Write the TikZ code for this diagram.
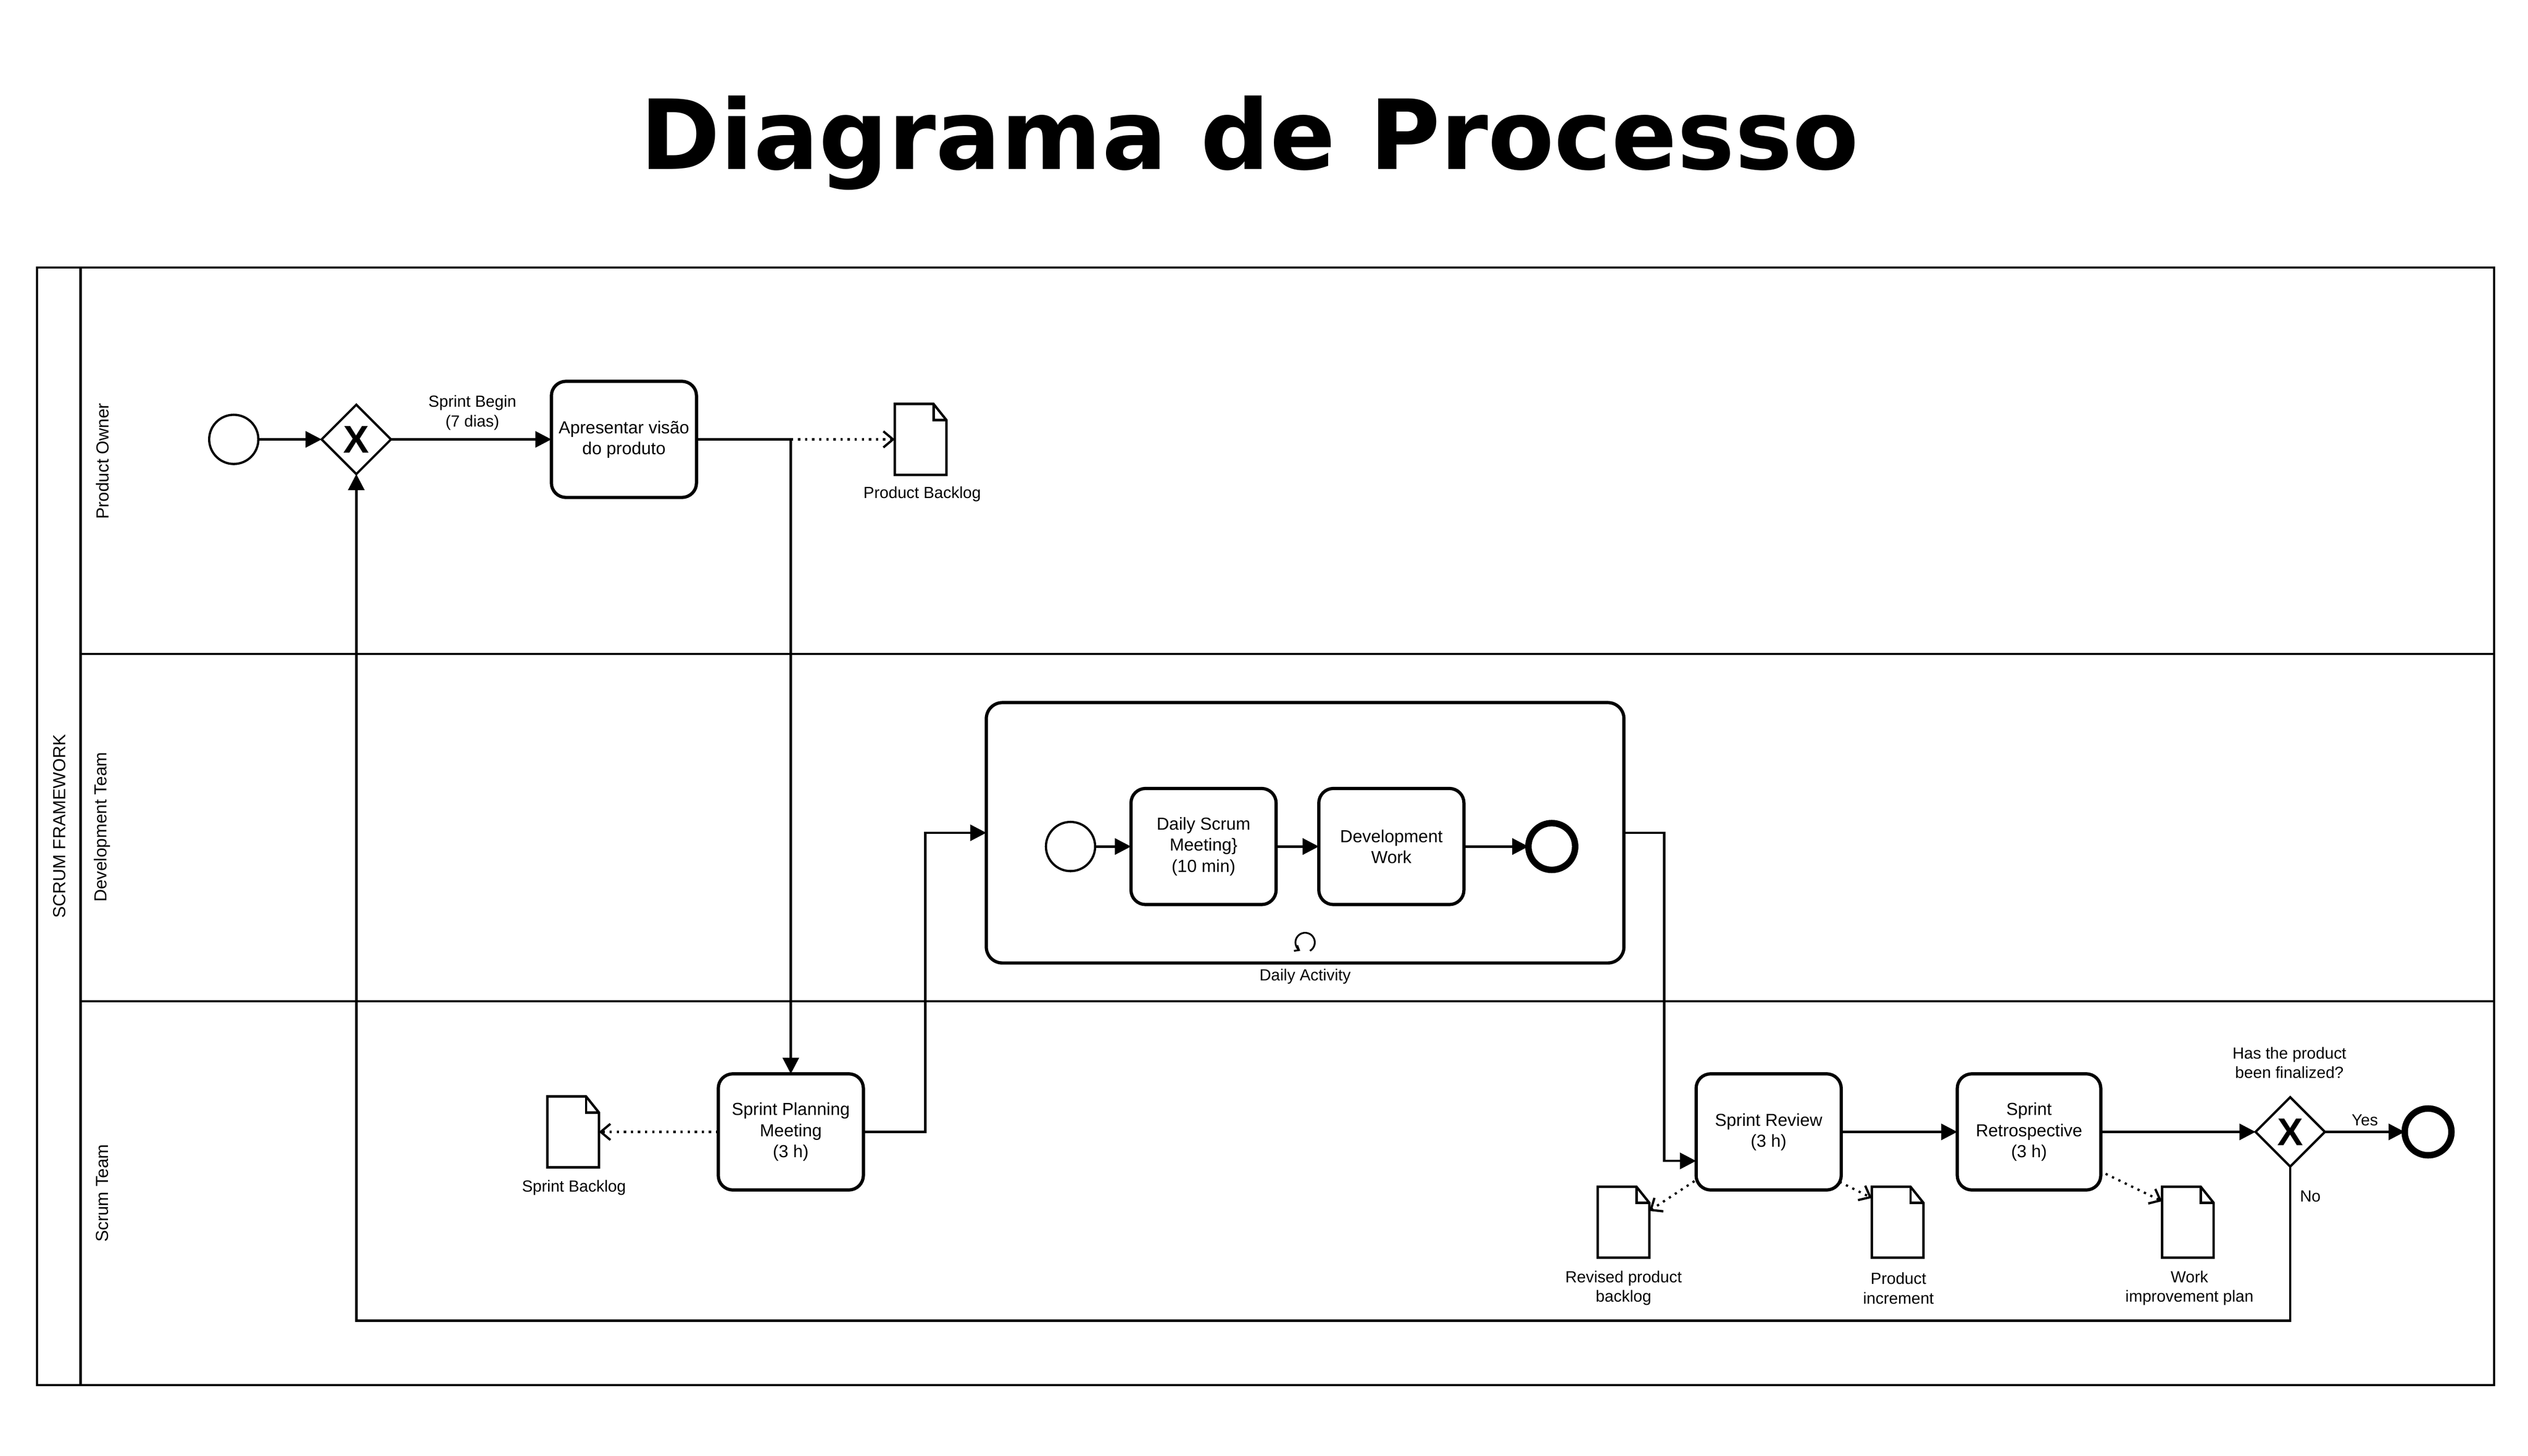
\documentclass[tikz,border=0pt]{standalone}
\usepackage{fontspec}
\setmainfont{Liberation Sans}
\newfontfamily\titlefont{DejaVu Sans}
\usetikzlibrary{arrows.meta,shapes.geometric}

\tikzset{
  poolbox/.style={draw, line width=1.4pt, rectangle, inner sep=0pt, outer sep=0pt},
  lanebox/.style={draw, line width=1.4pt, rectangle, inner sep=0pt, outer sep=0pt, anchor=north west},
  lanelabel/.style={rotate=90, inner sep=0pt, font=\fontsize{10.8}{13}\selectfont},
  task/.style={draw, line width=2pt, rounded corners=9pt, rectangle, minimum width=90pt, minimum height=72pt, align=center, inner sep=2pt, outer sep=0pt, font=\fontsize{10.8}{13}\selectfont},
  subproc/.style={draw, line width=2pt, rounded corners=10pt, rectangle, inner sep=0pt, outer sep=0pt},
  startev/.style={circle, draw, line width=1.4pt, minimum size=30.5pt, inner sep=0pt, outer sep=0pt},
  endev/.style={circle, draw, line width=4pt, minimum size=29pt, inner sep=0pt, outer sep=0pt},
  gateway/.style={diamond, draw, line width=1.4pt, minimum width=43pt, minimum height=43pt, inner sep=0pt, outer sep=0pt, font=\fontsize{24}{24}\selectfont\bfseries},
  dataobj/.style={rectangle, minimum width=32pt, minimum height=44pt, inner sep=0pt, outer sep=0pt},
  docline/.style={line width=1.5pt, line join=miter},
  lbl/.style={align=center, font=\fontsize{10}{12}\selectfont, inner sep=0pt},
  flow/.style={line width=1.5pt, -{Triangle[length=10pt,width=10pt]}},
  assoc/.style={line width=1.4pt, dash pattern=on 1.4pt off 3pt, -{Straight Barb[length=6pt,width=10pt]}},
}

\newcommand{\dataobject}[2]{%
  \node[dataobj] (#1) at (#2) {};
  \draw[docline] (#1.south west) -- (#1.north west) -- ([xshift=-8pt]#1.north east) -- ([yshift=-10pt]#1.north east) -- (#1.south east) -- cycle;
  \draw[docline] ([xshift=-8pt]#1.north east) |- ([yshift=-10pt]#1.north east);
}

\begin{document}
\begin{tikzpicture}[x=1pt,y=-1pt]
\useasboundingbox (0,0) rectangle (1568,903);

% title
\node[anchor=base, inner sep=0pt, font={\titlefont\bfseries\fontsize{60}{60}\selectfont}] (title) at (775,104.8) {Diagrama de Processo};

% pool and lanes
\node[poolbox, minimum width=1524pt, minimum height=693pt] (pool) at (785,512.5) {};
\draw[line width=1.4pt] (50,166) -- (50,859);
\node[lanebox, minimum width=1497pt, minimum height=239.5pt] (lanePO) at (50,166) {};
\node[lanebox, minimum width=1497pt, minimum height=215.5pt] (laneDT) at (50,405.5) {};
\node[lanebox, minimum width=1497pt, minimum height=238pt] (laneST) at (50,621) {};
\node[lanelabel] (poolname) at (37,512.5) {SCRUM FRAMEWORK};
\node[lanelabel] (lblPO) at (63.5,286) {Product Owner};
\node[lanelabel] (lblDT) at (63.5,513) {Development Team};
\node[lanelabel] (lblST) at (63.5,740) {Scrum Team};

% Product Owner lane
\node[startev] (start) at (145,272.5) {};
\node[gateway] (gw1) at (221,272.5) {X};
\node[task] (visao) at (387,272.5) {Apresentar visão\\do produto};
\dataobject{pb}{571,272.5}
\node[lbl] (pblbl) at (572,306.5) {Product Backlog};
\node[lbl] (sbegin) at (293,256) {Sprint Begin\\(7 dias)};

% Development Team lane: sub-process
\node[subproc, minimum width=395.5pt, minimum height=161.5pt] (sub) at (809.5,516.5) {};
\node[startev] (istart) at (664,525) {};
\node[task] (daily) at (746.5,525) {Daily Scrum\\Meeting\}\\(10 min)};
\node[task] (devwork) at (863,525) {Development\\Work};
\node[endev] (iend) at (962.5,525) {};
\coordinate (loopm) at (809.5,584.5);
\draw[line width=1.1pt, -{Straight Barb[length=2.5pt,width=4pt]}] ([shift={(60:6)}]loopm) arc[start angle=60, end angle=-240, radius=6];
\node[lbl] (dalbl) at (809.5,605.5) {Daily Activity};

% Scrum Team lane
\node[task] (planning) at (490.5,702) {Sprint Planning\\Meeting\\(3 h)};
\dataobject{sb}{355.5,702}
\node[lbl] (sblbl) at (356,736.5) {Sprint Backlog};
\node[task] (review) at (1097,702) {Sprint Review\\(3 h)};
\node[task, minimum width=89pt] (retro) at (1258.5,702) {Sprint\\Retrospective\\(3 h)};
\node[gateway] (gw2) at (1420.5,702) {X};
\node[endev] (fim) at (1506,702) {};
\node[lbl] (question) at (1420,659) {Has the product\\been finalized?};
\dataobject{rpb}{1007,758}
\dataobject{pinc}{1177,758}
\dataobject{wip}{1357,758}
\node[lbl] (rpblbl) at (1007,799) {Revised product\\backlog};
\node[lbl] (pinclbl) at (1177.5,799) {Product\\increment};
\node[lbl] (wiplbl) at (1358,799) {Work\\improvement plan};

% sequence flows
\draw[flow] (start) -- (gw1);
\draw[flow] (gw1) -- (visao);
\coordinate (j1) at (490.5,272.5);
\draw[flow] (visao.east) -- (j1) -- (planning.north);
\draw[assoc] (j1) -- (pb.west);
\draw[assoc] (planning.west) -- (sb.east);
\draw[flow] (planning.east) -- ++(38.5,0) |- (sub.west);
\draw[flow] (istart) -- (daily);
\draw[flow] (daily) -- (devwork);
\draw[flow] (devwork) -- (iend);
\draw[flow] (sub.east) -- ++(25,0) |- ([yshift=-18pt]review.west);
\draw[flow] (review) -- (retro);
\draw[flow] (retro) -- (gw2);
\draw[flow] (gw2) -- node[lbl, above=3pt] (yes) {Yes} (fim);
\coordinate (nobot) at (1420.5,819);
\draw[flow] (gw2.south) -- (nobot) -| (gw1.south);
\node[lbl] (no) at (1433,742) {No};

% data associations
\draw[assoc] ([shift={(-1pt,5.5pt)}]review.south west) -- ([yshift=7pt]rpb.east);
\draw[assoc] ([shift={(-1pt,5pt)}]review.south east) -- ([yshift=-7pt]pinc.north west);
\draw[assoc] ([shift={(3pt,10pt)}]retro.south east) -- ([yshift=-9pt]wip.north west);
\end{tikzpicture}
\end{document}
